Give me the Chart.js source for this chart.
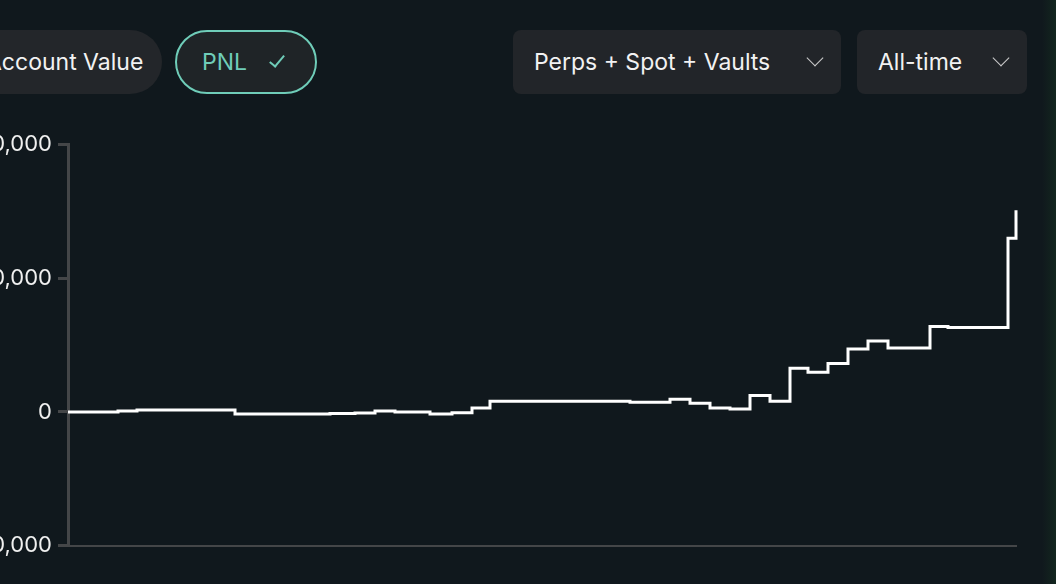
<!DOCTYPE html>
<html>
<head>
<meta charset="utf-8">
<script src="https://cdn.jsdelivr.net/npm/chart.js@4"></script>
<style>
	body { margin:0; width:1056px; height:584px; background:#10181d; overflow:hidden; position:relative; font-family:Inter, sans-serif; }
	.pill { position:absolute; top:30px; height:64px; box-sizing:border-box; display:flex; align-items:center; font-size:23px; color:#f2f2f2; }
	.acc { left:-76px; width:238px; border-radius:32px; background:#23262a; padding-left:62px; }
	.pnl { left:175px; width:142px; border-radius:32px; border:2px solid #6fcdb9; background:#1f2427; color:#6fcdb9; padding-left:25px; }
	.box { border-radius:8px; background:#222529; padding-left:21px; }
	.chev { position:absolute; right:20px; top:22px; width:11px; height:11px; border-right:1.6px solid #ccc; border-bottom:1.6px solid #ccc; transform:rotate(45deg); transform-origin:center; }
	.chev.tick { right:34px; top:20px; width:6px; height:13px; transform:rotate(40deg); border-color:#6fcdb9; border-width:2px; }
	#wrap { position:absolute; left:0; top:125px; width:1030px; height:440px; }
	.edge { position:absolute; right:0; top:0; width:14px; height:584px; background:linear-gradient(90deg,#10181d,#13261f); }
</style>
</head>
<body>
<div class="pill acc">Account Value</div>
<div class="pill pnl">PNL<span class="chev tick"></span></div>
<div class="pill box" style="left:513px;width:328px;">Perps + Spot + Vaults<span class="chev"></span></div>
<div class="pill box" style="left:857px;width:170px;">All-time<span class="chev"></span></div>
<div class="edge"></div>
<div id="wrap"><canvas id="pnlChart"></canvas></div>
<script>
// day index since start, and PNL value held from that day
const days = [0, 32, 50, 69, 167, 262, 287, 307, 327, 362, 384, 404, 422, 562, 582, 602, 622, 642, 662, 682, 702, 722, 740, 760, 780, 800, 820, 862, 880, 920, 940, 948];
const pnl = [0, 70, 150, -150, -120, -80, 70, 0, -150, -70, 290, 800, 720, 720, 940, 650, 290, 220, 1230, 800, 3260, 2970, 3620, 4710, 5290, 4780, 6380, 6300, 6300, 12970, 15070, 15070];
const yTicks = [-10000, 0, 10000, 20000];

const ctx = document.getElementById('pnlChart').getContext('2d');
new Chart(ctx, {
	type: 'line',
	data: {
		datasets: [{
			// value i is held from days[i] until days[i+1]
			data: days.map((d, i) => ({ x: d, y: i > 0 ? pnl[i - 1] : pnl[0] })),
			borderColor: '#ffffff',
			borderWidth: 3,
			pointRadius: 0,
			stepped: true,
			fill: false,
			clip: false
		}]
	},
	options: {
		responsive: true,
		maintainAspectRatio: false,
		animation: false,
		layout: { padding: { top: 1, right: 14, bottom: 7 } },
		plugins: { legend: { display: false }, tooltip: { enabled: false } },
		scales: {
			x: {
				type: 'linear', min: 0, max: 948,
				ticks: { display: false },
				grid: { display: false },
				border: { color: '#444648', width: 2 }
			},
			y: {
				min: -10000, max: 20000,
				afterFit: s => { s.width = 68; },
				afterBuildTicks: s => { s.ticks = yTicks.map(v => ({ value: v })); },
				ticks: {
					color: '#f0f0f0', padding: 6,
					font: { family: 'Inter', size: 22 },
					callback: v => v.toLocaleString('en-US')
				},
				grid: { drawOnChartArea: false, tickLength: 10, color: '#444648', lineWidth: 3 },
				border: { color: '#444648', width: 3 }
			}
		}
	}
});
</script>
</body>
</html>
